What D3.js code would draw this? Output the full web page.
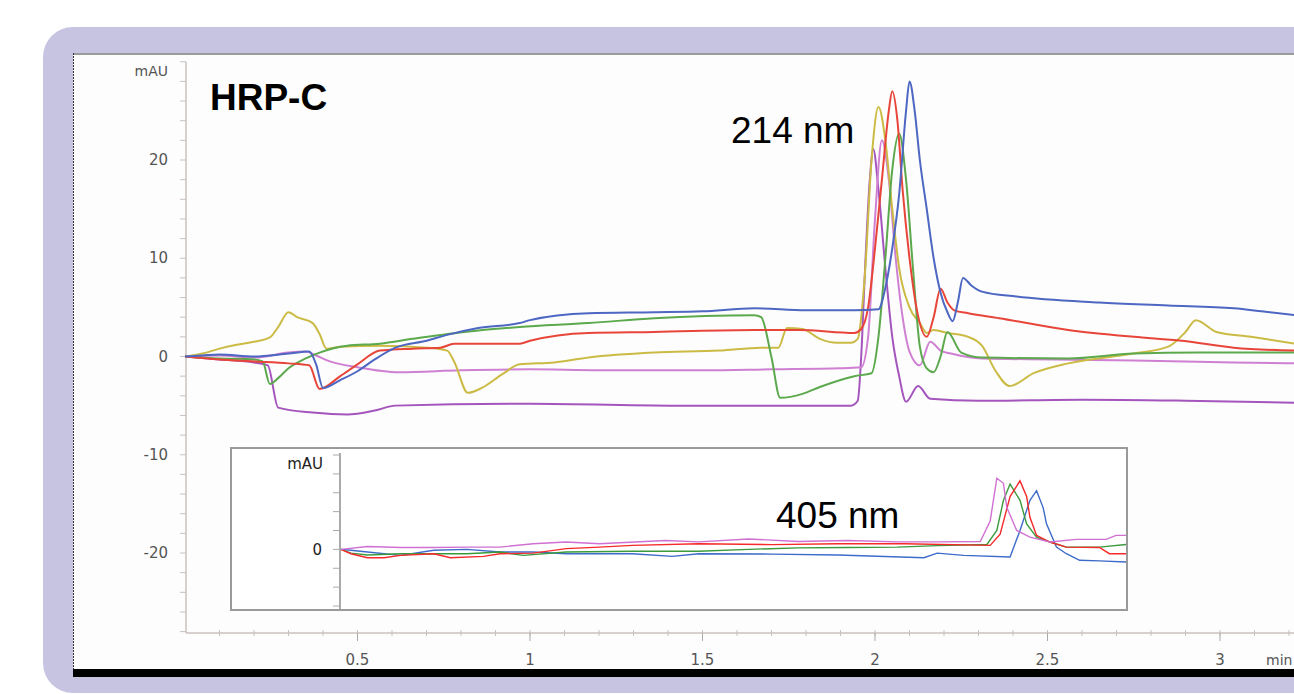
<!DOCTYPE html>
<html>
<head>
<meta charset="utf-8">
<script src="https://cdn.jsdelivr.net/npm/d3@7"></script>
<style>
  body { margin: 0; background: #fff; overflow: hidden; }
  svg { display: block; }
</style>
</head>
<body>
<div id="chart"></div>
<script>
// Chromatogram data, [time (min), mAU]
let blue214 = [[0,0],[0.05,0.1],[0.1,0.2],[0.2,0.0],[0.3,0.3],[0.36,0.5],[0.38,-0.8],[0.40,-3.2],[0.45,-2.4],[0.5,-1.5],[0.55,-0.3],[0.61,0.9],[0.7,1.6],[0.76,2.2],[0.85,2.9],[0.97,3.4],[1.0,3.7],[1.17,4.4],[1.36,4.5],[1.5,4.6],[1.65,4.9],[1.8,4.7],[1.94,4.7],[2.01,4.8],[2.03,7],[2.05,11],[2.07,16.5],[2.09,25],[2.10,28],[2.115,25],[2.13,20],[2.15,15],[2.17,10],[2.19,6.5],[2.21,4.5],[2.225,3.6],[2.24,5.5],[2.255,8.0],[2.28,7.2],[2.31,6.6],[2.41,6.1],[2.65,5.5],[2.85,5.2],[3.04,4.9],[3.12,4.6],[3.22,4.2]];
let red214 = [[0,0],[0.1,-0.3],[0.2,-0.5],[0.3,-0.7],[0.36,-0.9],[0.39,-3.3],[0.45,-2.0],[0.5,-0.8],[0.565,0.6],[0.66,0.8],[0.74,0.9],[0.78,1.3],[0.97,1.3],[1.0,1.6],[1.17,2.4],[1.36,2.5],[1.65,2.7],[1.78,2.7],[1.94,2.4],[1.96,2.8],[1.98,5],[2.00,11],[2.02,18],[2.04,25],[2.05,27],[2.065,24],[2.08,17],[2.10,10],[2.12,5],[2.15,2.0],[2.17,4],[2.19,6.9],[2.21,5.5],[2.23,4.7],[2.27,4.4],[2.36,3.9],[2.56,2.7],[2.75,2.0],[2.89,1.6],[3.04,0.9],[3.22,0.6]];
let yellow214 = [[0,0],[0.05,0.3],[0.1,0.8],[0.15,1.2],[0.2,1.5],[0.246,1.95],[0.27,3.0],[0.30,4.5],[0.325,4.0],[0.37,3.4],[0.39,2.3],[0.41,0.8],[0.45,1.0],[0.565,1.1],[0.7,0.9],[0.76,0.6],[0.78,-0.5],[0.82,-3.7],[0.86,-3.2],[0.92,-1.8],[0.97,-0.8],[1.07,-0.6],[1.17,-0.1],[1.36,0.4],[1.55,0.6],[1.67,0.9],[1.72,0.9],[1.745,2.9],[1.79,2.8],[1.84,1.8],[1.89,1.4],[1.93,1.4],[1.95,1.8],[1.97,8],[1.99,20],[2.01,25.4],[2.03,22],[2.05,15],[2.07,9],[2.10,5],[2.13,3.4],[2.15,2.4],[2.17,2.7],[2.21,2.4],[2.27,2.0],[2.31,1.1],[2.35,-1.5],[2.39,-3.0],[2.46,-1.7],[2.56,-0.7],[2.75,0.3],[2.85,1.0],[2.90,2.5],[2.93,3.7],[2.99,2.5],[3.09,2.0],[3.22,1.3]];
let green214 = [[0,0],[0.1,-0.2],[0.2,-0.3],[0.225,-0.5],[0.246,-2.8],[0.27,-2.2],[0.3,-1.2],[0.35,-0.2],[0.39,0.4],[0.47,1.1],[0.565,1.3],[0.66,1.8],[0.81,2.5],[0.97,3.0],[1.17,3.4],[1.36,3.9],[1.65,4.2],[1.67,4.0],[1.70,-0.1],[1.725,-4.2],[1.79,-3.8],[1.84,-3.1],[1.94,-2.0],[1.99,-1.7],[2.01,2],[2.03,10],[2.05,19],[2.07,22.7],[2.09,18],[2.11,9],[2.13,1],[2.15,-1.2],[2.17,-1.6],[2.19,0],[2.21,2.5],[2.25,0.4],[2.31,-0.1],[2.56,-0.2],[2.75,0.3],[2.94,0.4],[3.22,0.4]];
let pink214 = [[0,0],[0.1,0.1],[0.2,-0.1],[0.3,0.4],[0.35,0.5],[0.38,0.1],[0.42,-0.5],[0.5,-1.1],[0.62,-1.6],[0.8,-1.4],[1.0,-1.3],[1.2,-1.4],[1.5,-1.4],[1.7,-1.3],[1.9,-1.2],[1.96,-1.1],[1.98,2],[2.00,14],[2.02,22],[2.04,18],[2.06,10],[2.08,4],[2.10,0.5],[2.13,-0.9],[2.16,1.5],[2.19,0.6],[2.22,0.3],[2.31,-0.2],[2.75,-0.4],[3.04,-0.6],[3.22,-0.7]];
let purple214 = [[0,0],[0.1,-0.3],[0.2,-0.6],[0.24,-0.9],[0.27,-5.2],[0.37,-5.7],[0.47,-5.9],[0.55,-5.5],[0.61,-5.0],[1.0,-4.8],[1.45,-5.0],[1.93,-5.0],[1.95,-4.5],[1.96,0],[1.97,8],[1.985,18],[1.995,21.1],[2.01,17],[2.03,9],[2.05,2],[2.07,-2],[2.09,-4.6],[2.125,-3.0],[2.16,-4.3],[2.3,-4.5],[2.6,-4.4],[2.9,-4.5],[3.22,-4.7]];

// inset, 405 nm
let pink405 = [[0,0],[0.08,0.15],[0.18,0.1],[0.28,0.1],[0.38,0.12],[0.48,0.12],[0.58,0.3],[0.68,0.39],[0.78,0.3],[0.98,0.47],[1.08,0.4],[1.23,0.55],[1.38,0.42],[1.53,0.47],[1.68,0.4],[1.80,0.4],[1.93,0.42],[1.96,1.5],[1.98,3.77],[2.00,3.5],[2.01,2.23],[2.04,1.0],[2.08,0.65],[2.14,0.39],[2.22,0.53],[2.31,0.53],[2.34,0.74],[2.37,0.74]];
let green405 = [[0,0],[0.03,-0.2],[0.08,-0.3],[0.18,-0.23],[0.38,-0.23],[0.48,-0.14],[0.55,-0.32],[0.68,-0.14],[0.88,-0.1],[1.08,-0.1],[1.23,0.0],[1.38,0.08],[1.53,0.1],[1.68,0.12],[1.80,0.2],[1.95,0.26],[1.98,1.0],[2.00,2.6],[2.02,3.46],[2.05,2.6],[2.07,1.35],[2.10,0.65],[2.14,0.39],[2.19,0.12],[2.29,0.12],[2.37,0.26]];
let red405 = [[0,0],[0.03,-0.23],[0.08,-0.44],[0.13,-0.44],[0.18,-0.32],[0.28,-0.23],[0.33,-0.44],[0.43,-0.37],[0.48,-0.23],[0.58,-0.2],[0.68,0.04],[0.78,0.12],[0.88,0.21],[1.08,0.3],[1.3,0.25],[1.5,0.3],[1.7,0.3],[1.96,0.21],[1.99,0.8],[2.02,2.8],[2.05,3.63],[2.07,2.8],[2.08,1.7],[2.10,0.74],[2.14,0.39],[2.19,0.12],[2.29,0.1],[2.32,-0.23],[2.37,-0.23]];
let blue405 = [[0,0],[0.03,-0.05],[0.08,-0.14],[0.18,-0.32],[0.28,-0.05],[0.38,0.0],[0.48,-0.14],[0.58,-0.14],[0.68,-0.23],[0.88,-0.23],[1.0,-0.37],[1.08,-0.23],[1.3,-0.25],[1.5,-0.3],[1.76,-0.44],[1.80,-0.2],[1.88,-0.32],[2.02,-0.4],[2.05,1.0],[2.08,2.6],[2.10,3.11],[2.12,2.2],[2.13,1.35],[2.16,0.12],[2.19,-0.23],[2.23,-0.58],[2.29,-0.61],[2.37,-0.67]];

let yLabels = [-20, -10, 0, 10, 20];
let xLabels = [0.5, 1, 1.5, 2, 2.5, 3];

let width = 1294, height = 694;
const svg = d3.select("#chart").append("svg")
              .attr("width", width)
              .attr("height", height);

//Frame
svg.append("rect")
   .attr("x", 43).attr("y", 27)
   .attr("width", width).attr("height", 666)
   .attr("rx", 30)
   .attr("fill", "#c6c4e0");
svg.append("rect")
   .attr("x", 73).attr("y", 53)
   .attr("width", width).attr("height", 617)
   .attr("fill", "#fdfdfd");
svg.append("line")
   .attr("x1", 73).attr("x2", width).attr("y1", 54).attr("y2", 54)
   .attr("stroke", "#9a9a9a").attr("stroke-width", 2);
svg.append("line")
   .attr("x1", 73.5).attr("x2", 73.5).attr("y1", 53).attr("y2", 670)
   .attr("stroke", "#333").attr("stroke-dasharray", "2,1");
svg.append("rect")
   .attr("x", 73).attr("y", 669)
   .attr("width", width).attr("height", 8)
   .attr("fill", "#000");

//Scales
let x = d3.scaleLinear().domain([0, 3]).range([185, 1220]);
let y = d3.scaleLinear().domain([-20, 20]).range([553, 160]);
let axisColor = "#cbbfbf";
let labelFont = "DejaVu Sans";

// y axis
svg.append("line")
   .attr("x1", 186).attr("x2", 186).attr("y1", y(30)).attr("y2", 633)
   .attr("stroke", axisColor).attr("stroke-width", 1.5);
svg.append("g")
   .selectAll("line")
   .data(d3.range(-28, 31, 2))
   .join("line")
   .attr("x1", 180).attr("x2", 186)
   .attr("y1", d => y(d)).attr("y2", d => y(d))
   .attr("stroke", axisColor);
svg.append("g")
   .selectAll("text")
   .data(yLabels)
   .join("text")
   .attr("x", 168)
   .attr("y", d => y(d) + 5)
   .attr("text-anchor", "end")
   .attr("font-family", labelFont)
   .attr("font-size", 15)
   .attr("fill", "#555")
   .text(d => d);
svg.append("text")
   .attr("x", 168).attr("y", 76)
   .attr("text-anchor", "end")
   .attr("font-family", labelFont)
   .attr("font-size", 14)
   .attr("fill", "#555")
   .text("mAU");

// x axis
svg.append("line")
   .attr("x1", 186).attr("x2", width).attr("y1", 633).attr("y2", 633)
   .attr("stroke", axisColor).attr("stroke-width", 1.5);
svg.append("g")
   .selectAll("line")
   .data(d3.range(1, 33).map(d => d / 10))
   .join("line")
   .attr("x1", d => x(d)).attr("x2", d => x(d))
   .attr("y1", 630).attr("y2", 636)
   .attr("stroke", axisColor);
svg.append("g")
   .selectAll("line")
   .data(xLabels)
   .join("line")
   .attr("x1", d => x(d)).attr("x2", d => x(d))
   .attr("y1", 633).attr("y2", 641)
   .attr("stroke", "#aaa");
svg.append("g")
   .selectAll("text")
   .data(xLabels)
   .join("text")
   .attr("x", d => x(d))
   .attr("y", 665)
   .attr("text-anchor", "middle")
   .attr("font-family", labelFont)
   .attr("font-size", 15)
   .attr("fill", "#555")
   .text(d => d);
svg.append("text")
   .attr("x", 1266).attr("y", 665)
   .attr("font-family", labelFont)
   .attr("font-size", 14)
   .attr("fill", "#555")
   .text("min");

//Traces 214 nm
let line = d3.line()
             .x(d => x(d[0]))
             .y(d => y(d[1]))
             .curve(d3.curveMonotoneX);

let traces = [
    {data: purple214, color: "#a455bd"},
    {data: pink214, color: "#cf80d2"},
    {data: yellow214, color: "#cbbb45"},
    {data: green214, color: "#5ba94c"},
    {data: red214, color: "#e8453a"},
    {data: blue214, color: "#4d67c2"}
];
svg.append("g")
   .selectAll("path")
   .data(traces)
   .join("path")
   .attr("d", d => line(d.data))
   .attr("fill", "none")
   .attr("stroke", d => d.color)
   .attr("stroke-width", 2)
   .attr("stroke-linejoin", "round");

//Inset 405 nm
svg.append("rect")
   .attr("x", 231).attr("y", 448)
   .attr("width", 896).attr("height", 162)
   .attr("fill", "#fff")
   .attr("stroke", "#9a9a9a").attr("stroke-width", 2);

let ix = d3.scaleLinear().domain([0, 2.37]).range([341, 1126]);
let iy = d3.scaleLinear().domain([-3, 5]).range([606, 455]);

svg.append("line")
   .attr("x1", 340).attr("x2", 340).attr("y1", 453).attr("y2", 609)
   .attr("stroke", "#aaa").attr("stroke-width", 2);
svg.append("g")
   .selectAll("line")
   .data(d3.range(-3, 6))
   .join("line")
   .attr("x1", 333).attr("x2", 339)
   .attr("y1", d => iy(d)).attr("y2", d => iy(d))
   .attr("stroke", "#aaa");
svg.append("text")
   .attr("x", 322).attr("y", iy(0) + 6)
   .attr("text-anchor", "end")
   .attr("font-family", labelFont)
   .attr("font-size", 15)
   .attr("fill", "#222")
   .text("0");
svg.append("text")
   .attr("x", 323).attr("y", 469)
   .attr("text-anchor", "end")
   .attr("font-family", labelFont)
   .attr("font-size", 15)
   .attr("fill", "#222")
   .text("mAU");

let iline = d3.line()
              .x(d => ix(d[0]))
              .y(d => iy(d[1]));
let insetTraces = [
    {data: blue405, color: "#3d6bc9"},
    {data: green405, color: "#3a9a3c"},
    {data: red405, color: "#f52a2a"},
    {data: pink405, color: "#d070d2"}
];
svg.append("g")
   .selectAll("path")
   .data(insetTraces)
   .join("path")
   .attr("d", d => iline(d.data))
   .attr("fill", "none")
   .attr("stroke", d => d.color)
   .attr("stroke-width", 1.4);

//Labels
svg.append("text")
   .attr("x", 210).attr("y", 110)
   .attr("font-family", "Liberation Sans, Arial, sans-serif")
   .attr("font-weight", "bold")
   .attr("font-size", 37)
   .attr("fill", "#000")
   .text("HRP-C");
svg.append("text")
   .attr("x", 731).attr("y", 143)
   .attr("font-family", "Liberation Sans, Arial, sans-serif")
   .attr("font-size", 37)
   .attr("fill", "#000")
   .text("214 nm");
svg.append("text")
   .attr("x", 776).attr("y", 528)
   .attr("font-family", "Liberation Sans, Arial, sans-serif")
   .attr("font-size", 37)
   .attr("fill", "#000")
   .text("405 nm");
</script>
</body>
</html>
